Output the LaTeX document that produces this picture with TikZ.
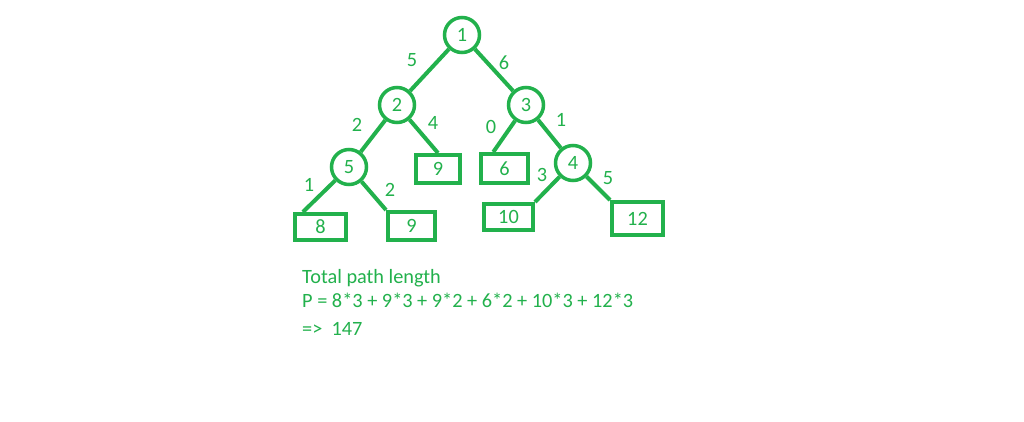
\documentclass[tikz,border=0pt]{standalone}
\usepackage{fontspec}
\setmainfont{Carlito}
\usetikzlibrary{calc}
\definecolor{pgreen}{RGB}{34,177,76}
\begin{document}
\begin{tikzpicture}[x=1pt,y=-1pt,
  txt/.style={text=pgreen,font=\fontsize{20.3}{24}\selectfont,inner sep=0pt},
  vert/.style={txt,circle,draw=pgreen,line width=3.5pt,minimum size=35pt},
  leaf/.style={txt,rectangle,draw=pgreen,line width=4pt},
  edge/.style={draw=pgreen,line width=4pt},
  wlab/.style={txt}]
\useasboundingbox[fill=white] (0,0) rectangle (1024,421);
% internal nodes
\node[vert] (n1) at (462,35) {1};
\node[vert] (n2) at (397,105) {2};
\node[vert] (n3) at (526,105) {3};
\node[vert] (n5) at (349,167) {5};
\node[vert] (n4) at (573,163) {4};
% leaves
\node[leaf,minimum width=44pt,minimum height=28pt] (b9a) at (438,169) {9};
\node[leaf,minimum width=47pt,minimum height=29pt] (b6) at (504.5,168.5) {6};
\node[leaf,minimum width=51pt,minimum height=26pt] (b8) at (320.5,227) {8};
\node[leaf,minimum width=47pt,minimum height=28pt] (b9b) at (411.5,226) {9};
\node[leaf,minimum width=49pt,minimum height=26pt] (b10) at (508.5,217) {10};
\node[leaf,minimum width=51pt,minimum height=33pt] (b12) at (637.5,218.5) {12};
% connectors
\draw[edge] (n1) -- (n2);
\draw[edge] (n1) -- (n3);
\draw[edge] (n2) -- (n5);
\draw[edge] (n2) -- (b9a.north);
\draw[edge] (n3) -- ($(b6.north west)!0.28!(b6.north east)$);
\draw[edge] (n3) -- (n4);
\draw[edge] (n5) -- ($(b8.north west)!0.18!(b8.north east)$);
\draw[edge] (n5) -- (b9b.north west);
\draw[edge] (n4) -- (b10.north east);
\draw[edge] (n4) -- (b12.north west);
% weights
\node[wlab] (w12) at (412,60) {5};
\node[wlab] (w13) at (504,63) {6};
\node[wlab] (w25) at (357,125) {2};
\node[wlab] (w29) at (433,123) {4};
\node[wlab] (w36) at (491,127) {0};
\node[wlab] (w34) at (561,120) {1};
\node[wlab] (w58) at (309,185) {1};
\node[wlab] (w59) at (390,190) {2};
\node[wlab] (w410) at (542,175) {3};
\node[wlab] (w412) at (608,178) {5};
% text
\node[txt,anchor=base west] (t1) at (302,283) {Total path length};
\node[txt,anchor=base west] (t2) at (302,307) {P = 8*3 + 9*3 + 9*2 + 6*2 + 10*3 + 12*3};
\node[txt,anchor=base west] (t3) at (302,335) {=>\ \ 147};
\end{tikzpicture}
\end{document}
